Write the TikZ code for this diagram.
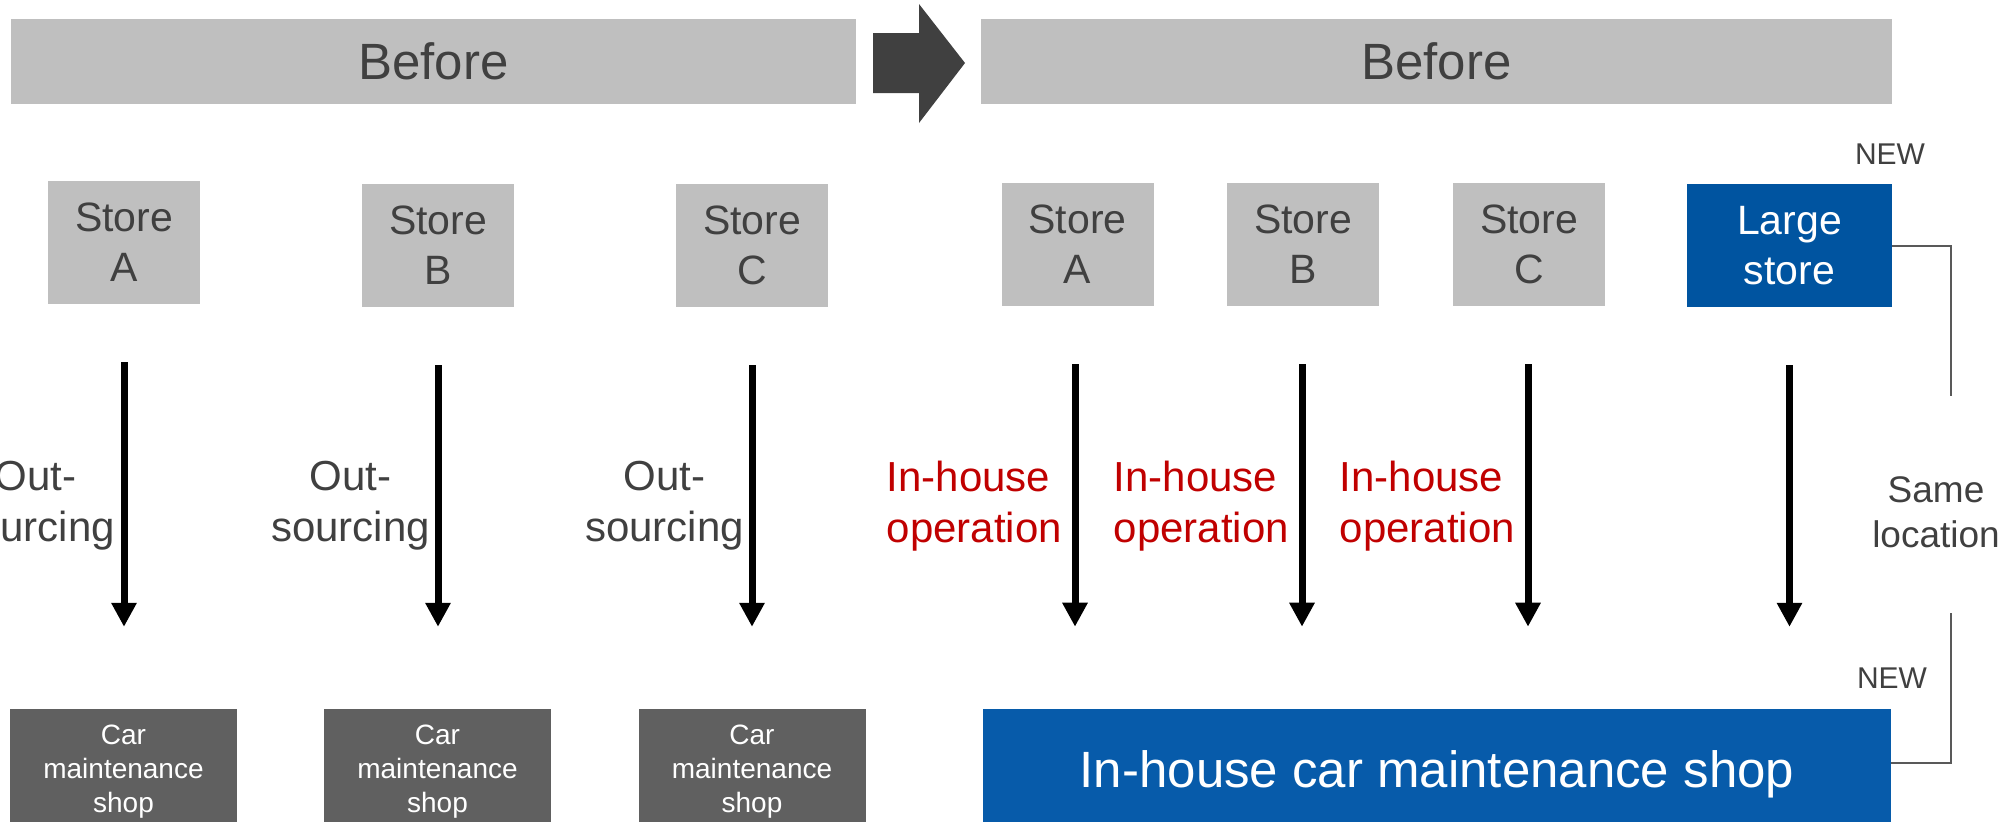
\documentclass[tikz,border=0pt]{standalone}
\usepackage{fontspec}
\setmainfont{Liberation Sans}
\usetikzlibrary{arrows.meta}
\definecolor{bargray}{HTML}{BFBFBF}
\definecolor{txtgray}{HTML}{404040}
\definecolor{shopgray}{HTML}{606060}
\definecolor{storeblue}{HTML}{0054A0}
\definecolor{shopblue}{HTML}{075BAA}
\definecolor{opred}{HTML}{C00000}
\definecolor{linegray}{HTML}{595959}
\begin{document}
\begin{tikzpicture}[x=1pt,y=-1pt,
    bar/.style={fill=bargray,text=txtgray,minimum height=85pt,inner sep=0pt,
      font=\fontsize{51}{61}\selectfont},
    store/.style={fill=bargray,text=txtgray,minimum width=152pt,minimum height=123pt,
      inner sep=0pt,align=center,font=\fontsize{41}{50}\selectfont},
    shop/.style={fill=shopgray,text=white,minimum width=227pt,minimum height=126pt,
      inner sep=0pt,align=center,font=\fontsize{28}{34}\selectfont},
    outlbl/.style={text=txtgray,inner sep=0pt,align=center,anchor=east,
      font=\fontsize{42}{51}\selectfont},
    inlbl/.style={text=opred,inner sep=0pt,align=left,anchor=east,
      font=\fontsize{42}{51}\selectfont},
    newlbl/.style={text=txtgray,inner sep=0pt,font=\fontsize{30}{36}\selectfont},
    flow/.style={line width=7pt,-{Triangle[width=24pt,length=24pt]},
      shorten <=58pt,shorten >=82pt},
    bracket/.style={draw=linegray,line width=2pt}]
  \useasboundingbox (0,0) rectangle (2006,822);
  \clip (0,0) rectangle (2006,822);

  % header bars
  \node[bar,minimum width=845pt] (befL) at (433.5,61.5) {Before};
  \node[bar,minimum width=911pt] (befR) at (1436.5,61.5) {Before};
  \fill[txtgray] (873,33) -- (919,33) -- (919,4) -- (965,63)
    -- (919,123) -- (919,93) -- (873,93) -- cycle;

  % stores
  \node[store] (sAL) at (124,242.5) {Store\\A};
  \node[store] (sBL) at (438,245.5) {Store\\B};
  \node[store] (sCL) at (752,245.5) {Store\\C};
  \node[store] (sAR) at (1077.5,244.5) {Store\\A};
  \node[store] (sBR) at (1303,244.5) {Store\\B};
  \node[store] (sCR) at (1529,244.5) {Store\\C};
  \node[store,fill=storeblue,text=white,minimum width=205pt] (large) at (1789.5,245.5) {Large\\store};
  \node[newlbl] (newtop) at (1890,154) {NEW};

  % shops
  \node[shop] (shopA) at (123.5,772) {Car\\maintenance\\shop};
  \node[shop] (shopB) at (437.5,772) {Car\\maintenance\\shop};
  \node[shop] (shopC) at (752,772) {Car\\maintenance\\shop};
  \node[shop,fill=shopblue,minimum width=908pt,minimum height=130pt,
    font=\fontsize{51}{61}\selectfont] (inshop) at (1437,774) {In-house car maintenance shop};
  \node[newlbl] (newbot) at (1892,678) {NEW};

  % flows
  \begin{scope}
    \draw[flow] (sAL.south) -- (sAL.south |- shopA.north);
    \draw[flow] (sBL.south) -- (sBL.south |- shopB.north);
    \draw[flow] (sCL.south) -- (sCL.south |- shopC.north);
    \draw[flow] (sAR.south) ++(-2.5,0) -- +(0,402.5);
    \draw[flow] (sBR.south) ++(-1,0) -- +(0,402.5);
    \draw[flow] (sCR.south) ++(-1,0) -- +(0,402.5);
    \draw[flow] (large.south) -- (large.south |- inshop.north);
  \end{scope}
  \node[outlbl] (oA) at (115,506) {Out-\\sourcing};
  \node[outlbl] (oB) at (430,506) {Out-\\sourcing};
  \node[outlbl] (oC) at (744,506) {Out-\\sourcing};
  \node[inlbl] (iA) at (1062,506) {In-house\\operation};
  \node[inlbl] (iB) at (1289,506) {In-house\\operation};
  \node[inlbl] (iC) at (1515,506) {In-house\\operation};

  % same location bracket
  \coordinate (brtop) at (1951,396);
  \coordinate (brbot) at (1951,613);
  \draw[bracket] (large.east) -| (brtop);
  \draw[bracket] (brbot) |- (inshop.north east |- 0,763);
  \node[text=txtgray,align=center,inner sep=0pt,font=\fontsize{37}{45}\selectfont]
    (sameloc) at (1936,512) {Same\\location};
\end{tikzpicture}
\end{document}
